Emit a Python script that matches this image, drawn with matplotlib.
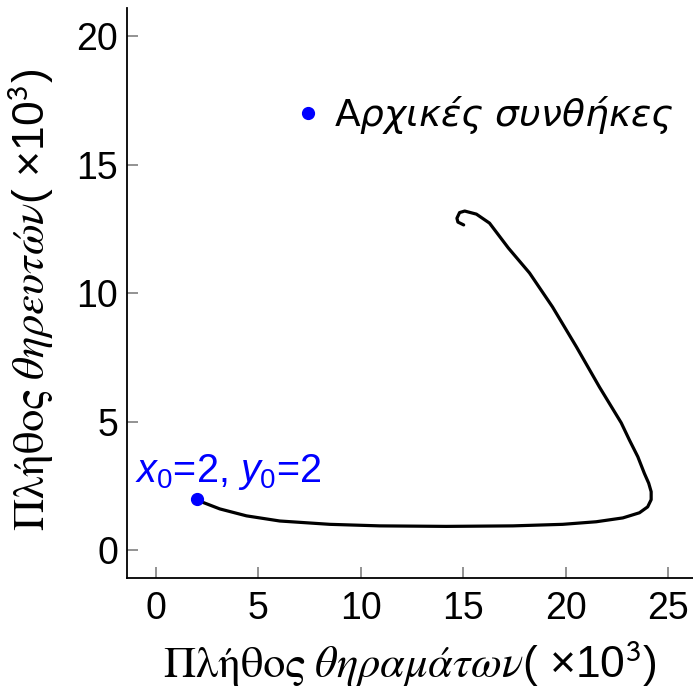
import matplotlib
matplotlib.use("Agg")
import matplotlib.pyplot as plt

plt.rcParams['font.family'] = ['Liberation Sans', 'DejaVu Sans']
plt.rcParams['mathtext.fontset'] = 'custom'
plt.rcParams['mathtext.rm'] = 'Liberation Sans'
plt.rcParams['mathtext.it'] = 'Liberation Sans:italic'

# trajectory (prey x, predators y, both x10^3)
prey = [2.03, 2.32, 3.13, 4.43, 6.05, 8.49, 10.93, 14.17, 17.42, 19.85, 21.48,
        22.78, 23.59, 23.99, 24.16, 24.16, 24.04, 23.83, 23.51, 23.1, 22.7,
        21.64, 20.52, 19.35, 18.23, 17.2, 16.28, 15.64, 15.07, 14.82, 14.69,
        14.74, 15.02]
predators = [1.98, 1.85, 1.6, 1.33, 1.13, 1.0, 0.94, 0.92, 0.94, 1.0, 1.1,
             1.25, 1.45, 1.68, 1.96, 2.27, 2.60, 2.98, 3.63, 4.28, 4.95,
             6.34, 7.90, 9.46, 10.78, 11.75, 12.72, 13.07, 13.19, 13.13, 12.91,
             12.76, 12.65]
x0, y0 = 2, 2

fig = plt.figure(figsize=(6.93, 6.97), dpi=100)
ax = fig.add_axes([0.1828, 0.1703, 1 - 0.1828, 0.9885 - 0.1703])

ax.plot(prey, predators, color='black', lw=2.3, solid_capstyle='round',
        solid_joinstyle='round')
ax.plot([x0], [y0], 'o', color='blue', ms=8.5, label='$Αρχικές\\ συνθήκες$')

ax.text(-1.0, 3.03, '$x_0$=2, $y_0$=2', color='blue', fontsize=28.5, va='center')

ax.set_xlim(-1.41, 26.2)
ax.set_ylim(-1.10, 21.09)
ax.set_xticks([0, 5, 10, 15, 20, 25])
ax.set_yticks([0, 5, 10, 15, 20])
ax.spines['top'].set_visible(False)
ax.spines['right'].set_visible(False)
for s in ['left', 'bottom']:
    ax.spines[s].set_linewidth(1.3)
ax.tick_params(direction='in', length=8, width=1.2, color='gray', labelsize=27)
ax.tick_params(axis='x', pad=9)
ax.tick_params(axis='y', pad=6)

ax.set_xlabel('$\\mathrm{Πλήθος}\\ θηραμάτων$( ×10$^{\\mathsf{3}}$)', fontsize=32,
              math_fontfamily='stix', labelpad=8)
ax.set_ylabel('$\\mathrm{Πλήθος}\\ θηρευτών$( ×10$^{\\mathsf{3}}$)', fontsize=32,
              math_fontfamily='stix')
ax.yaxis.set_label_coords(-0.127, 0.488)

leg = ax.legend(loc='center left', bbox_to_anchor=(0.274, 0.813), frameon=False,
                fontsize=27, handlelength=0.6, handletextpad=0.4, borderaxespad=0)
leg.get_texts()[0].set_math_fontfamily('dejavusans')

fig.savefig('out.png', dpi=100)
